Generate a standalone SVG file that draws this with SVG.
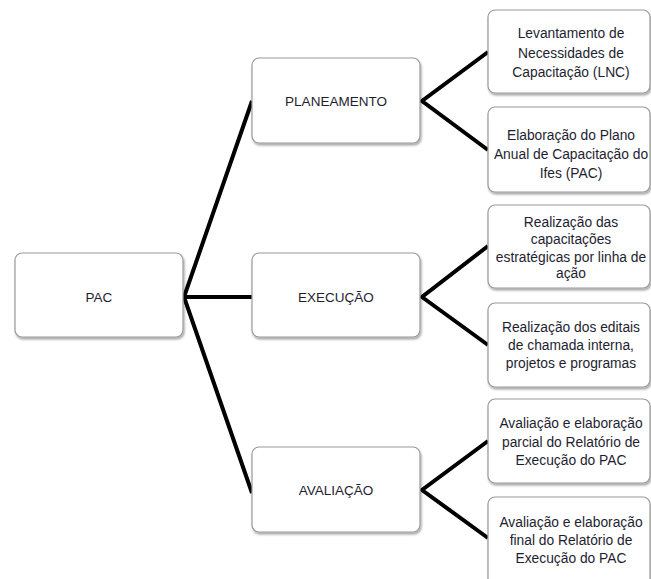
<svg xmlns="http://www.w3.org/2000/svg" width="651" height="579" viewBox="0 0 651 579">
<style>
.box{fill:#ffffff;stroke:#9a9a9a;stroke-width:1.2;filter:url(#sh)}
.t{font-family:"Liberation Sans",Arial,sans-serif;font-size:13.5px;fill:#1e1e30;text-anchor:middle}
.s{font-family:"Liberation Sans",Arial,sans-serif;font-size:13.8px;fill:#1e1e30;text-anchor:middle}
.c{stroke:#000;stroke-width:4;fill:none;stroke-linejoin:miter}
</style>
<defs>
<filter id="sh" x="-10%" y="-10%" width="130%" height="140%">
<feDropShadow dx="1" dy="2" stdDeviation="1.3" flood-color="#000" flood-opacity="0.35"/>
</filter>
</defs>
<rect width="651" height="579" fill="#fff"/>
<g id="connectors">
<path class="c" d="M252,101 L184,297 L252,493"/>
<path class="c" d="M184,297 L252,297"/>
<path class="c" d="M488,52 L422,101 L488,150"/>
<path class="c" d="M488,246 L422,297 L488,345"/>
<path class="c" d="M488,441 L422,490 L488,538"/>
</g>
<g id="pac"><rect class="box" x="15" y="253" width="168" height="84" rx="7"/><text class="t" x="99" y="302">PAC</text></g>
<g id="planeamento"><rect class="box" x="252" y="58" width="168" height="85" rx="7"/><text class="t" x="336" y="106">PLANEAMENTO</text></g>
<g id="execucao"><rect class="box" x="252" y="253" width="168" height="84" rx="7"/><text class="t" x="336" y="302">EXECUÇÃO</text></g>
<g id="avaliacao"><rect class="box" x="252" y="447" width="168" height="85" rx="7"/><text class="t" x="336" y="495">AVALIAÇÃO</text></g>
<g id="lnc"><rect class="box" x="488" y="10" width="162" height="83" rx="7"/>
<text class="s" x="571"><tspan x="571" y="38">Levantamento de</tspan><tspan x="571" y="58">Necessidades de</tspan><tspan x="571" y="77">Capacitação (LNC)</tspan></text></g>
<g id="plano"><rect class="box" x="488" y="107" width="162" height="85" rx="7"/>
<text class="s"><tspan x="571" y="140">Elaboração do Plano</tspan><tspan x="571" y="159">Anual de Capacitação do</tspan><tspan x="571" y="178">Ifes (PAC)</tspan></text></g>
<g id="estrategicas"><rect class="box" x="488" y="205" width="162" height="83" rx="7"/>
<text class="s"><tspan x="571" y="227">Realização das</tspan><tspan x="571" y="244">capacitações</tspan><tspan x="571" y="262">estratégicas por linha de</tspan><tspan x="571" y="278">ação</tspan></text></g>
<g id="editais"><rect class="box" x="488" y="303" width="162" height="84" rx="7"/>
<text class="s"><tspan x="571" y="332">Realização dos editais</tspan><tspan x="571" y="350">de chamada interna,</tspan><tspan x="571" y="368">projetos e programas</tspan></text></g>
<g id="parcial"><rect class="box" x="488" y="399" width="162" height="84" rx="7"/>
<text class="s"><tspan x="571" y="428">Avaliação e elaboração</tspan><tspan x="571" y="447">parcial do Relatório de</tspan><tspan x="571" y="465">Execução do PAC</tspan></text></g>
<g id="final"><rect class="box" x="488" y="497" width="162" height="90" rx="7"/>
<text class="s"><tspan x="571" y="527">Avaliação e elaboração</tspan><tspan x="571" y="545">final do Relatório de</tspan><tspan x="571" y="563">Execução do PAC</tspan></text></g>
</svg>
